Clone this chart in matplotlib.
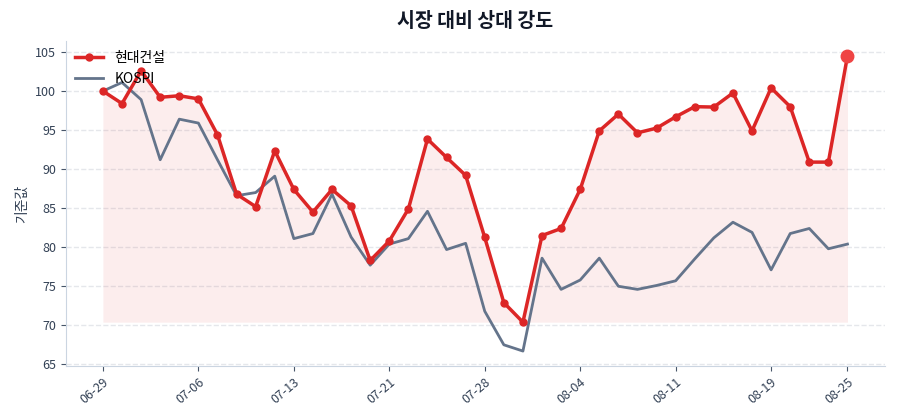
import numpy as np
import matplotlib
matplotlib.use("Agg")
import matplotlib.pyplot as plt

plt.rcParams["font.family"] = ["Noto Sans CJK KR", "DejaVu Sans"]

# 값 (기준 = 100)
hyundai = [100.0, 98.4, 102.6, 99.2, 99.4, 99.0, 94.4, 86.8, 85.2, 92.35,
           87.4, 84.5, 87.4, 85.3, 78.3, 80.8, 84.9, 93.85, 91.5, 89.2,
           81.25, 72.9, 70.4, 81.5, 82.4, 87.4, 94.9, 97.05, 94.65, 95.25,
           96.7, 98.0, 97.95, 99.75, 94.9, 100.4, 98.0, 90.9, 90.9, 104.5]
kospi = [100.0, 101.1, 98.9, 91.2, 96.4, 95.9, 91.2, 86.6, 87.0, 89.1,
         81.1, 81.75, 86.8, 81.3, 77.7, 80.4, 81.1, 84.6, 79.7, 80.5,
         71.8, 67.5, 66.7, 78.6, 74.6, 75.8, 78.6, 75.0, 74.6, 75.1,
         75.7, 78.5, 81.2, 83.2, 81.9, 77.1, 81.75, 82.4, 79.8, 80.4]
tick_pos = [0, 5, 10, 15, 20, 25, 30, 35, 39]
tick_labels = ["06-29", "07-06", "07-13", "07-21", "07-28",
               "08-04", "08-11", "08-19", "08-25"]

RED = "#dc2626"
GRAY = "#64748b"

x = np.arange(len(hyundai))
h = np.array(hyundai)

fig, ax = plt.subplots(figsize=(9, 4.2), dpi=100)
fig.subplots_adjust(left=0.073, right=0.983, top=0.902, bottom=0.129)

ax.fill_between(x, h, h.min(), color=RED, alpha=0.08, linewidth=0)
ax.plot(x, kospi, color=GRAY, linewidth=2, label="KOSPI", zorder=2)
ax.plot(x, h, color=RED, linewidth=2.5, marker="o", markersize=5,
        label="현대건설", zorder=3)
ax.plot(x[-1], h[-1], "o", color="#ef4444", markersize=9, zorder=4)

ax.set_title("시장 대비 상대 강도", fontsize=14, fontweight="bold",
             color="#111827", pad=10)
ax.set_ylabel("기준값", fontsize=10, color="#334155")
ax.set_xticks(tick_pos)
ax.set_xticklabels(tick_labels, rotation=40, ha="right", rotation_mode="anchor")
ax.set_yticks(np.arange(65, 106, 5))

ax.grid(axis="y", linestyle="--", color="#e5e7eb", linewidth=1)
ax.set_axisbelow(True)
for s in ["top", "right"]:
    ax.spines[s].set_visible(False)
for s in ["left", "bottom"]:
    ax.spines[s].set_color("#cbd5e1")
ax.tick_params(colors="#475569", labelsize=9)
ax.tick_params(axis="both", labelcolor="#334155")

handles, labels = ax.get_legend_handles_labels()
ax.legend(handles[::-1], labels[::-1], loc="upper left", frameon=False,
          fontsize=10, borderaxespad=0.3)

fig.savefig("out.png", dpi=100)
